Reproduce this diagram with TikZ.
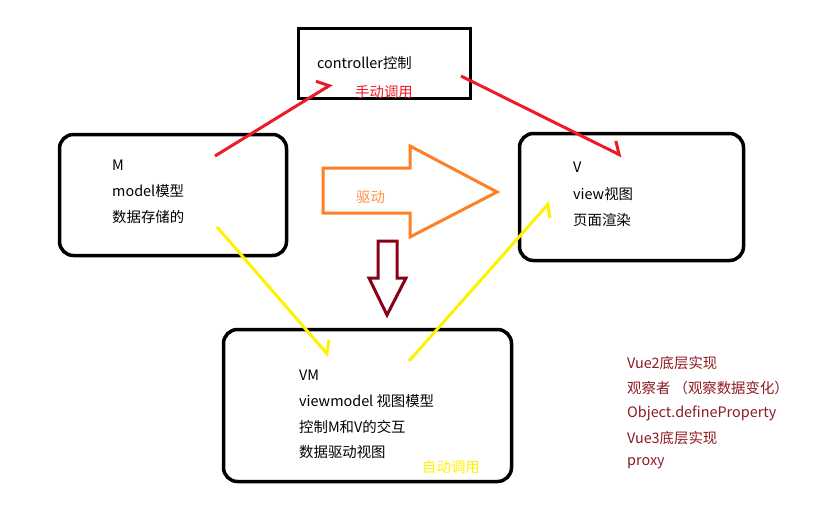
\documentclass[tikz,border=0pt]{standalone}
\usepackage{fontspec}
\setmainfont{Noto Sans CJK SC}
\usetikzlibrary{arrows.meta,positioning}

\definecolor{pred}{HTML}{ED1C24}
\definecolor{pyellow}{HTML}{FFF200}
\definecolor{porange}{HTML}{FF7F27}
\definecolor{pdark}{HTML}{880015}
\definecolor{pnote}{HTML}{8E1A22}

\tikzset{
  box/.style={draw=black, line width=3.5pt, rounded corners=14pt, inner sep=0pt},
  txt/.style={anchor=west, inner sep=0pt, font=\fontsize{14.4}{15}\selectfont},
  lbarb/.style={-{Straight Barb[left, angle=100:14pt, line width=3pt]}},
  rbarb/.style={-{Straight Barb[right, angle=100:14pt, line width=3pt]}},
}

\begin{document}
\begin{tikzpicture}[x=1pt, y=-1pt]
  \useasboundingbox (0,0) rectangle (827,511);

  % boxes
  \node[box, rounded corners=0pt, minimum width=172pt, minimum height=70pt] (ctrl) at (384.5,63.5) {};
  \node[box, minimum width=227pt, minimum height=121pt] (model) at (173,195) {};
  \node[box, minimum width=224pt, minimum height=127pt] (view) at (631.5,197) {};
  \node[box, minimum width=288pt, minimum height=152pt] (vm) at (367.5,405.5) {};

  % texts
  \node[txt] (ctrltxt) at (317,63) {controller控制};
  \node[txt, text=pred] (manual) at (355,92) {手动调用};

  \node[txt] (m1) at (112,165) {M};
  \node[txt] (m2) at (112,191) {model模型};
  \node[txt] (m3) at (112,217) {数据存储的};

  \node[txt] (v1) at (573,167) {V};
  \node[txt] (v2) at (573,194) {view视图};
  \node[txt] (v3) at (573,220) {页面渲染};

  \node[txt] (vm1) at (299,375) {VM};
  \node[txt] (vm2) at (299,401) {viewmodel 视图模型};
  \node[txt] (vm3) at (299,427) {控制M和V的交互};
  \node[txt] (vm4) at (299,452) {数据驱动视图};
  \node[txt, text=pyellow] (auto) at (422,467) {自动调用};

  \node[txt, text=pnote] (n1) at (627,363) {Vue2底层实现};
  \node[txt, text=pnote] (n2) at (627,388) {观察者\ （观察数据变化）};
  \node[txt, text=pnote] (n3) at (627,413) {Object.defineProperty};
  \node[txt, text=pnote] (n4) at (627,438) {Vue3底层实现};
  \node[txt, text=pnote] (n5) at (627,463) {proxy};

  % block arrows
  \draw[porange, line width=3pt, line join=miter]
    (323,168) -- (410,168) -- (410,146) -- (497,192) -- (410,237) -- (410,213) -- (323,213) -- cycle;
  \node[txt, text=porange!85!white] (drive) at (356,197) {驱动};
  \draw[pdark, line width=3pt, line join=miter]
    (378,241) -- (397,241) -- (397,278) -- (406,278) -- (387,315) -- (369,278) -- (378,278) -- cycle;

  % connectors
  \coordinate (r1a) at (215,156);
  \coordinate (r1b) at (332,84);
  \coordinate (r2a) at (461,76);
  \coordinate (r2b) at (622,156);
  \coordinate (y1a) at (217,227);
  \coordinate (y1b) at (329,356);
  \coordinate (y2a) at (409,361);
  \coordinate (y2b) at (550,202);
  \draw[pred, line width=3pt, lbarb] (r1a) -- (r1b);
  \draw[pred, line width=3pt, lbarb] (r2a) -- (r2b);
  \draw[pyellow, line width=3pt, lbarb] (y1a) -- (y1b);
  \draw[pyellow, line width=3pt, rbarb] (y2a) -- (y2b);
\end{tikzpicture}
\end{document}
